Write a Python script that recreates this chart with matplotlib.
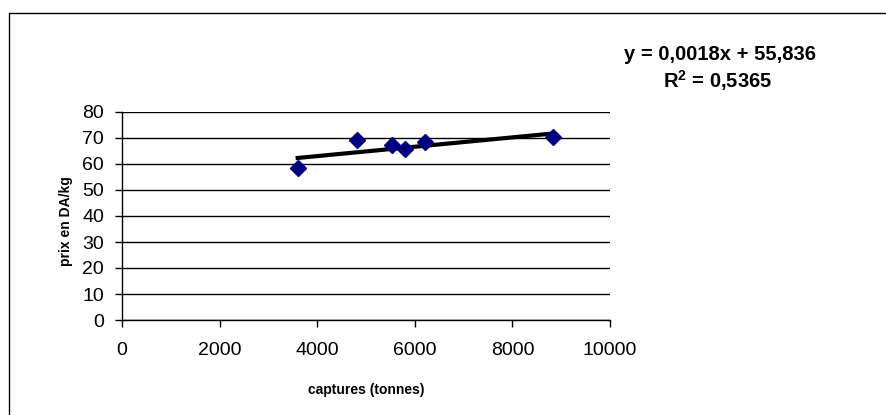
import matplotlib
matplotlib.use("Agg")
import matplotlib.pyplot as plt
from matplotlib.lines import Line2D
import numpy as np

captures = [3600, 4820, 5530, 5790, 6200, 8830]
prix = [58.3, 69.3, 67.3, 65.7, 68.6, 70.4]
slope = 0.0018
intercept = 55.836
eq_text = "y = 0,0018x + 55,836"
r2_text = r"R$^\mathbf{2}$ = 0,5365"
x_ticks = [0, 2000, 4000, 6000, 8000, 10000]
y_ticks = [0, 10, 20, 30, 40, 50, 60, 70, 80]

plt.rcParams['font.family'] = ['Liberation Sans', 'DejaVu Sans']
plt.rcParams['mathtext.fontset'] = 'custom'
plt.rcParams['mathtext.rm'] = 'Liberation Sans'
plt.rcParams['mathtext.bf'] = 'Liberation Sans:bold'

W, H = 886, 415
fig = plt.figure(figsize=(W/100, H/100), dpi=100)
fig.patch.set_facecolor('white')
# outer chart frame (only left and top edges visible)
fig.add_artist(Line2D([9/W, 9/W, 1], [0, 1-13/H, 1-13/H], transform=fig.transFigure,
                      color='black', linewidth=1))

left, right, bottom, top = 122, 610, 320, 112
ax = fig.add_axes([left/W, 1-bottom/H, (right-left)/W, (bottom-top)/H])
ax.set_xlim(0, 10000)
ax.set_ylim(0, 80)
ax.set_xticks(x_ticks)
ax.set_yticks(y_ticks)
ax.yaxis.grid(True, color='black', linewidth=1)
ax.set_axisbelow(True)
for s in ['top', 'right']:
    ax.spines[s].set_visible(False)
for s in ['left', 'bottom']:
    ax.spines[s].set_linewidth(1)
    ax.spines[s].set_color('black')
ax.tick_params(direction='out', length=5, width=1, labelsize=14)
ax.tick_params(axis='y', pad=8)
ax.tick_params(axis='x', pad=11)

xs = np.array([min(captures), max(captures)])
ax.plot(xs, slope*xs + intercept, color='black', linewidth=3, zorder=3)
ax.plot(captures, prix, linestyle='none', marker='D', markersize=8,
        color='#000080', zorder=4, clip_on=False)

fig.text(366/W, 1-390/H, 'captures (tonnes)', ha='center', va='center',
         fontsize=10, fontweight='bold')
fig.text(66/W, 1-221/H, 'prix en DA/kg', ha='center', va='center', rotation=90,
         fontsize=10, fontweight='bold')

fig.text(720/W, 1-54/H, eq_text, ha='center', va='center', fontsize=14.5, fontweight='bold')
fig.text(718/W, 1-81/H, r2_text, ha='center', va='center', fontsize=14.5, fontweight='bold')

fig.savefig('out.png', dpi=100)
